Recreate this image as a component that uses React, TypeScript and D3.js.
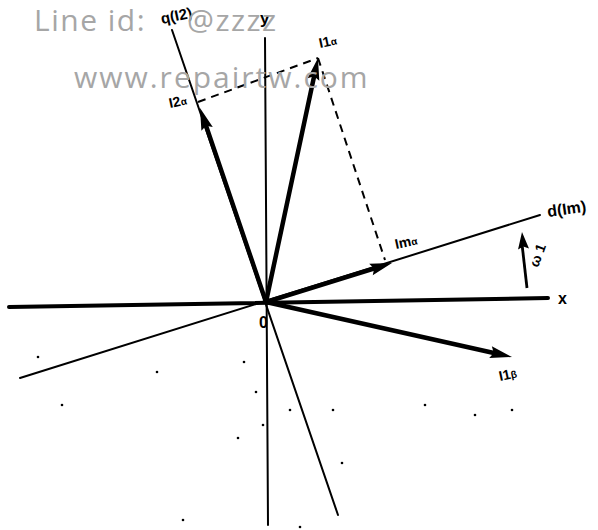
import React from "react";
import * as d3 from "d3";

// Axes (endpoints in diagram units, origin O at 0,0, y up)
const axisNames = ["x", "y", "q", "d"];
const axisStart: [number, number][] = [[-257, -5], [-1, 264], [-94, 272], [-246, -76]];
const axisEnd: [number, number][] = [[282, 4], [2, -223], [72, -213], [274, 87]];
const axisLabels = ["x", "y", "q(I2)", "d(Im)"];
const axisWidths = [4, 2, 2, 2];

// Vectors (tips)
const vectorNames = ["I1α", "I2α", "Imα", "I1β"];
const vectorTipX = [52, -66, 126, 246];
const vectorTipY = [244, 194, 39, -55];

// Projection lines (dashed)
const dashFrom: [number, number][] = [[-68, 200], [52, 244]];
const dashTo: [number, number][] = [[52, 244], [119, 42]];

// Rotation arrow ω1
const omegaFrom: [number, number] = [261, 14];
const omegaTo: [number, number] = [256, 70];

// Scan specks
const speckX = [-228, -109, -204, -10, -3, -28, 24, 67, 159, 209, 246, 76, 174, -83, 34, -22];
const speckY = [-55, -70, -103, -90, -123, -136, -108, -108, -103, -113, -108, -161, -235, -218, -225, -60];

const W = 598, H = 530;
const x = d3.scaleLinear().domain([-266, 332]).range([0, W]);
const y = d3.scaleLinear().domain([-228, 302]).range([H, 0]);

function arrowHead(x1: number, y1: number, x2: number, y2: number, len: number, half: number) {
  const dx = x2 - x1, dy = y2 - y1;
  const L = Math.hypot(dx, dy);
  const ux = dx / L, uy = dy / L;
  const bx = x2 - ux * len, by = y2 - uy * len;
  const p = d3.path();
  p.moveTo(x2, y2);
  p.lineTo(bx - uy * half, by + ux * half);
  p.lineTo(bx + ux * len * 0.15, by + uy * len * 0.15);
  p.lineTo(bx + uy * half, by - ux * half);
  p.closePath();
  return p.toString();
}

const labelOffsets: Record<string, [number, number]> = {
  "I1α": [2, -10],
  "I2α": [-30, 0],
  "Imα": [4, -14],
  "I1β": [-12, 24],
};

export default function App() {
  const ox = x(0), oy = y(0);
  const font = "'Liberation Sans', Arial, sans-serif";
  const wm = "'Open Sans', 'Noto Sans', sans-serif";
  return (
    <svg width={W} height={H} style={{ position: "absolute", left: 0, top: 0, background: "#fff" }}>
      {speckX.map((sx, i) => (
        <circle key={"s" + i} cx={x(sx)} cy={y(speckY[i])} r={1.3} fill="#000" />
      ))}
      {axisNames.map((n, i) => (
        <line key={n} x1={x(axisStart[i][0])} y1={y(axisStart[i][1])} x2={x(axisEnd[i][0])} y2={y(axisEnd[i][1])}
          stroke="#000" strokeWidth={axisWidths[i]} strokeLinecap="round" />
      ))}
      {dashFrom.map((f, i) => (
        <line key={"d" + i} x1={x(f[0])} y1={y(f[1])} x2={x(dashTo[i][0])} y2={y(dashTo[i][1])}
          stroke="#000" strokeWidth={2} strokeDasharray="8,6" />
      ))}
      {vectorNames.map((n, i) => {
        const tx = x(vectorTipX[i]), ty = y(vectorTipY[i]);
        const dx = tx - ox, dy = ty - oy, L = Math.hypot(dx, dy);
        const sx = tx - (dx / L) * 14, sy = ty - (dy / L) * 14;
        return (
          <g key={n}>
            <line x1={ox} y1={oy} x2={sx} y2={sy} stroke="#000" strokeWidth={4.5} strokeLinecap="round" />
            <path d={arrowHead(ox, oy, tx, ty, 22, 6)} fill="#000" />
          </g>
        );
      })}
      {/* omega arrow */}
      <line x1={x(omegaFrom[0])} y1={y(omegaFrom[1])} x2={x(omegaTo[0])} y2={y(omegaTo[1]) + 12} stroke="#000" strokeWidth={2.8} />
      <path d={arrowHead(x(omegaFrom[0]), y(omegaFrom[1]), x(omegaTo[0]), y(omegaTo[1]), 17, 5.5)} fill="#000" />
      <text x={x(omegaTo[0]) + 16} y={y(omegaTo[1]) + 36} fontFamily={font} fontWeight="bold" fontSize={14}
        transform={`rotate(-70 ${x(omegaTo[0]) + 16} ${y(omegaTo[1]) + 36})`}>ω 1</text>

      {/* vector labels */}
      {vectorNames.map((n, i) => {
        const [dx, dy] = labelOffsets[n];
        const tx = x(vectorTipX[i]) + dx, ty = y(vectorTipY[i]) + dy;
        return (
          <text key={"l" + n} x={tx} y={ty} fontFamily={font} fontWeight="bold" fontSize={14}
            transform={`rotate(-12 ${tx} ${ty})`}>
            {n.slice(0, 2)}<tspan fontSize={10}>{n.slice(2)}</tspan>
          </text>
        );
      })}

      {/* axis labels */}
      <text x={x(axisEnd[0][0]) + 10} y={y(axisEnd[0][1]) + 6} fontFamily={font} fontWeight="bold" fontSize={16}>{axisLabels[0]}</text>
      <text x={x(axisStart[1][0]) - 5} y={y(axisStart[1][1]) - 14} fontFamily={font} fontWeight="bold" fontSize={17}>{axisLabels[1]}</text>
      <text x={x(axisStart[2][0]) - 10} y={y(axisStart[2][1]) - 6} fontFamily={font} fontWeight="bold" fontSize={15}
        transform={`rotate(-12 ${x(axisStart[2][0]) - 10} ${y(axisStart[2][1]) - 6})`}>{axisLabels[2]}</text>
      <text x={x(axisEnd[3][0]) + 8} y={y(axisEnd[3][1]) + 2} fontFamily={font} fontWeight="bold" fontSize={16}
        transform={`rotate(-8 ${x(axisEnd[3][0]) + 8} ${y(axisEnd[3][1]) + 2})`}>{axisLabels[3]}</text>
      <text x={ox - 7} y={oy + 26} fontFamily={font} fontWeight="bold" fontSize={16}>0</text>

      {/* watermark */}
      <text y={31} fontFamily={wm} fontSize={30} fill="#a6a6a6" letterSpacing={1.5}>
        <tspan x={34}>Line id:</tspan><tspan x={187}>@zzzz</tspan>
      </text>
      <text x={74} y={88} fontFamily={wm} fontSize={30} fill="#a6a6a6" letterSpacing={2}>www.repairtw.com</text>
    </svg>
  );
}
